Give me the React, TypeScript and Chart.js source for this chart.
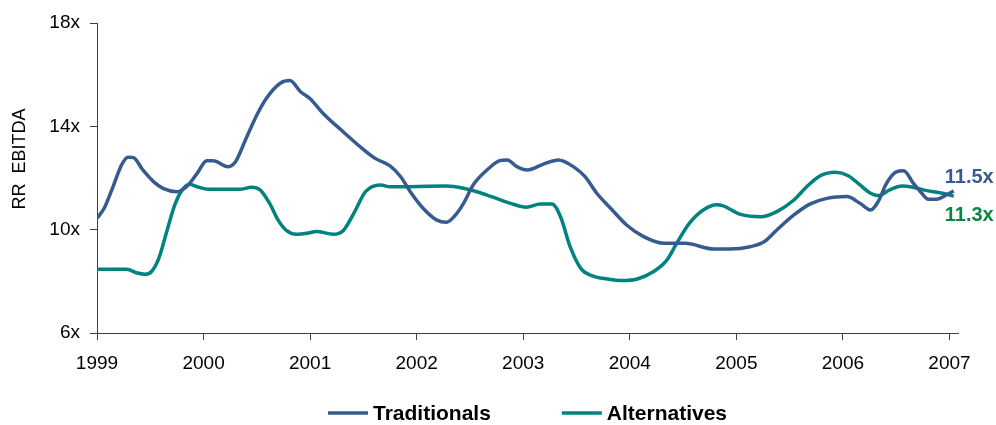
import React, { useEffect, useRef } from "react";
import { Chart, registerables } from "chart.js";

Chart.register(...registerables);

// Trailing EBITDA multiples, sampled along the year axis
const tradYears = [
  1999.0, 1999.07, 1999.15, 1999.23, 1999.29, 1999.34, 1999.43, 1999.53, 1999.62, 1999.75,
  1999.84, 1999.94, 2000.03, 2000.09, 2000.23, 2000.3, 2000.4, 2000.5, 2000.59, 2000.72,
  2000.81, 2000.91, 2001.0, 2001.12, 2001.31, 2001.47, 2001.61, 2001.75, 2001.85, 2001.94,
  2002.06, 2002.19, 2002.28, 2002.35, 2002.44, 2002.53, 2002.66, 2002.78, 2002.85, 2002.94,
  2003.04, 2003.19, 2003.33, 2003.47, 2003.58, 2003.69, 2003.82, 2003.97, 2004.13, 2004.32,
  2004.52, 2004.79, 2004.94, 2005.13, 2005.26, 2005.38, 2005.54, 2005.69, 2005.85, 2006.04,
  2006.16, 2006.26, 2006.33, 2006.41, 2006.5, 2006.57, 2006.66, 2006.74, 2006.8, 2006.88,
  2006.97, 2007.04,
];
const tradValues = [
  10.44, 10.85, 11.66, 12.5, 12.8, 12.79, 12.31, 11.86, 11.6, 11.47,
  11.66, 12.18, 12.67, 12.67, 12.44, 12.63, 13.54, 14.44, 15.09, 15.67,
  15.77, 15.34, 15.07, 14.51, 13.79, 13.21, 12.76, 12.47, 12.05, 11.47,
  10.83, 10.37, 10.29, 10.5, 11.02, 11.73, 12.31, 12.67, 12.7, 12.44,
  12.31, 12.54, 12.7, 12.44, 12.05, 11.41, 10.83, 10.18, 9.73, 9.47,
  9.47, 9.25, 9.25, 9.34, 9.53, 9.99, 10.57, 10.99, 11.21, 11.28,
  11.02, 10.76, 11.08, 11.8, 12.24, 12.28, 11.8, 11.41, 11.18, 11.18,
  11.34, 11.5,
];

const altYears = [
  1999.0, 1999.28, 1999.37, 1999.45, 1999.51, 1999.58, 1999.65, 1999.73, 1999.8, 1999.87,
  1999.94, 2000.06, 2000.34, 2000.45, 2000.53, 2000.62, 2000.7, 2000.78, 2000.87, 2000.97,
  2001.06, 2001.22, 2001.31, 2001.41, 2001.52, 2001.66, 2001.75, 2002.28, 2002.44, 2002.66,
  2002.88, 2003.03, 2003.16, 2003.27, 2003.35, 2003.44, 2003.54, 2003.65, 2003.79, 2003.93,
  2004.07, 2004.22, 2004.35, 2004.44, 2004.56, 2004.69, 2004.82, 2004.87, 2005.04, 2005.23,
  2005.38, 2005.54, 2005.66, 2005.79, 2005.93, 2006.05, 2006.16, 2006.26, 2006.33, 2006.44,
  2006.55, 2006.66, 2006.79, 2006.91, 2007.04,
];
const altValues = [
  8.47, 8.47, 8.33, 8.27, 8.37, 8.89, 9.86, 10.96, 11.54, 11.76,
  11.66, 11.56, 11.56, 11.64, 11.54, 11.02, 10.37, 9.96, 9.82, 9.86,
  9.93, 9.82, 9.96, 10.63, 11.47, 11.73, 11.66, 11.69, 11.6, 11.34,
  11.02, 10.87, 10.99, 10.99, 10.5, 9.34, 8.5, 8.21, 8.09, 8.03,
  8.09, 8.37, 8.83, 9.47, 10.25, 10.76, 10.96, 10.93, 10.59, 10.5,
  10.7, 11.15, 11.66, 12.09, 12.22, 12.09, 11.73, 11.41, 11.32, 11.54,
  11.69, 11.64, 11.51, 11.43, 11.3,
];

const seriesNames = ["Traditionals", "Alternatives"];
const yAxisTitle = "RR  EBITDA";
const yTicks = [6, 10, 14, 18];
const xTicks = [1999, 2000, 2001, 2002, 2003, 2004, 2005, 2006, 2007];

const BLUE = "#365C8F";
const TEAL = "#00827F";
const GREEN_LABEL = "#0C8545";
const FONT = "'Liberation Sans', Arial, sans-serif";

const toPoints = (xs: number[], ys: number[]) => xs.map((x, i) => ({ x, y: ys[i] }));

// Rotated y-axis title, last-value labels and a legend centred under the plot area
const decorations = {
  id: "decorations",
  afterDraw(chart: any) {
    const { ctx, chartArea, scales } = chart;
    const yS = scales.y;
    const xS = scales.x;
    ctx.save();

    // axis title
    ctx.save();
    ctx.translate(25, 159);
    ctx.rotate(-Math.PI / 2);
    ctx.font = `18px ${FONT}`;
    ctx.fillStyle = "#000";
    ctx.textAlign = "center";
    ctx.textBaseline = "alphabetic";
    ctx.fillText(yAxisTitle, 0, 0);
    ctx.restore();

    // end-of-series value labels
    const lastT = tradValues[tradValues.length - 1];
    const lastA = altValues[altValues.length - 1];
    const xEnd = xS.getPixelForValue(tradYears[tradYears.length - 1]);
    ctx.font = `bold 20px ${FONT}`;
    ctx.textAlign = "right";
    ctx.textBaseline = "middle";
    ctx.fillStyle = BLUE;
    ctx.fillText(lastT.toFixed(1) + "x", xEnd + 40, yS.getPixelForValue(lastT) - 13);
    ctx.fillStyle = GREEN_LABEL;
    ctx.fillText(lastA.toFixed(1) + "x", xEnd + 40, yS.getPixelForValue(lastA) + 19);

    // legend
    const colors = [BLUE, TEAL];
    ctx.font = `bold 21px ${FONT}`;
    const lineLen = 40;
    const gapText = 5;
    const gapItems = 71;
    const widths = seriesNames.map((n) => lineLen + gapText + ctx.measureText(n).width);
    const total = widths.reduce((a, b) => a + b, 0) + gapItems * (widths.length - 1);
    let x = (chartArea.left + chartArea.right) / 2 - total / 2;
    const ly = 413;
    ctx.textAlign = "left";
    ctx.textBaseline = "middle";
    seriesNames.forEach((n, i) => {
      ctx.strokeStyle = colors[i];
      ctx.lineWidth = 3.5;
      ctx.beginPath();
      ctx.moveTo(x, ly);
      ctx.lineTo(x + lineLen, ly);
      ctx.stroke();
      ctx.fillStyle = "#000";
      ctx.fillText(n, x + lineLen + gapText, ly + 1);
      x += widths[i] + gapItems;
    });

    ctx.restore();
  },
};

export default function App() {
  const canvasRef = useRef<HTMLCanvasElement | null>(null);

  useEffect(() => {
    const canvas = canvasRef.current;
    if (!canvas) return;
    const chart = new Chart(canvas, {
      type: "line",
      data: {
        datasets: [
          {
            label: seriesNames[0],
            data: toPoints(tradYears, tradValues),
            borderColor: BLUE,
            backgroundColor: BLUE,
            borderWidth: 3.5,
            pointRadius: 0,
            cubicInterpolationMode: "monotone",
          },
          {
            label: seriesNames[1],
            data: toPoints(altYears, altValues),
            borderColor: TEAL,
            backgroundColor: TEAL,
            borderWidth: 3.5,
            pointRadius: 0,
            cubicInterpolationMode: "monotone",
          },
        ],
      },
      options: {
        animation: false,
        responsive: false,
        maintainAspectRatio: false,
        layout: { padding: { left: 0, right: 38, top: 23, bottom: 52 } },
        plugins: {
          legend: { display: false },
          tooltip: { enabled: false },
        },
        scales: {
          x: {
            type: "linear",
            min: 1999,
            max: 2007.08,
            afterBuildTicks: (scale: any) => {
              scale.ticks = xTicks.map((v) => ({ value: v }));
            },
            afterFit: (scale: any) => {
              scale.height = 40;
            },
            ticks: {
              color: "#000",
              font: { family: FONT, size: 19 },
              padding: 12,
              maxRotation: 0,
              callback: (v: any) => String(v),
            },
            grid: {
              drawOnChartArea: false,
              drawTicks: true,
              tickLength: 7,
              tickColor: "#404040",
            },
            border: { display: true, color: "#404040", width: 1 },
          },
          y: {
            min: 6,
            max: 18,
            afterBuildTicks: (scale: any) => {
              scale.ticks = yTicks.map((v) => ({ value: v }));
            },
            afterFit: (scale: any) => {
              scale.width = 97;
            },
            ticks: {
              color: "#000",
              font: { family: FONT, size: 19 },
              padding: 10,
              callback: (v: any) => v + "x",
            },
            grid: {
              drawOnChartArea: false,
              drawTicks: true,
              tickLength: 7,
              tickColor: "#404040",
            },
            border: { display: true, color: "#404040", width: 1 },
          },
        },
      },
      plugins: [decorations],
    });
    return () => chart.destroy();
  }, []);

  return (
    <div style={{ position: "fixed", left: 0, top: 0, width: 996, height: 425, background: "#fff" }}>
      <canvas ref={canvasRef} width={996} height={425} style={{ display: "block" }} />
    </div>
  );
}
